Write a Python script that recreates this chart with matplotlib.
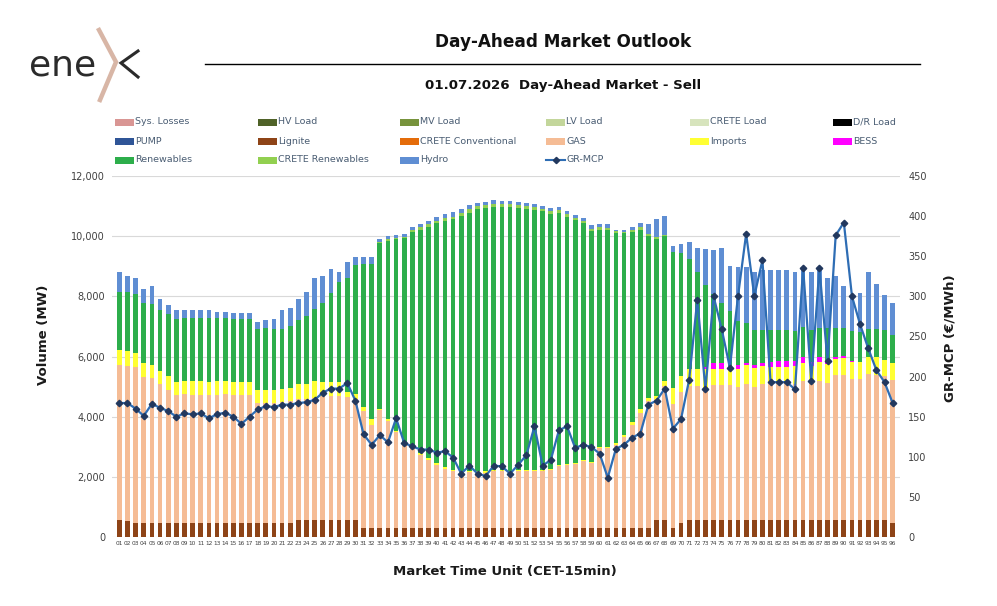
import numpy as np
import matplotlib.pyplot as plt
from matplotlib.patches import Rectangle
from matplotlib.lines import Line2D
from matplotlib.ticker import FuncFormatter

W, H = 997, 606

# market time units 01..96
mtu = [f"{i:02d}" for i in range(1, 97)]

# volumes (MW) per MTU
lignite = [570, 530] + [470] * 20 + [570] * 8 + [300] * 36 + [570, 570, 290, 450] + [570] * 25 + [470]

gas = [5160, 5170, 5170, 4860, 4800, 4600, 4410, 4250, 4270, 4260,
       4260, 4240, 4260, 4270, 4250, 4250, 4250, 3970, 3990, 3990,
       4020, 4040, 4010, 4020, 4040, 4110, 4110, 4110, 4070, 4030,
       3900, 3430, 3920, 3570, 3200, 2840, 2700, 2440, 2270, 2100,
       1960, 1880, 1830, 1870, 1870, 1840, 1880, 1900, 1870, 1880,
       1890, 1900, 1900, 1920, 2060, 2080, 2110, 2230, 2160, 2660,
       2660, 2770, 3030, 3430, 3830, 4220, 4030, 4460, 4130, 4360,
       4460, 4460, 4340, 4490, 4490, 4490, 4430, 4520, 4430, 4510,
       4560, 4560, 4560, 4520, 4610, 4610, 4610, 4550, 4810, 4820,
       4690, 4690, 4850, 4830, 4770, 4760]

imports = [470, 470, 460, 440, 460, 460, 470, 440, 440, 440,
           440, 440, 440, 440, 440, 440, 440, 430, 440, 440,
           420, 430, 490, 490, 560, 480, 460, 460, 170, 160,
           130, 180, 40, 60, 30, 30, 30, 60, 60, 60,
           60, 60, 40, 40, 40, 70, 40, 40, 40, 40,
           40, 40, 40, 40, 40, 40, 40, 40, 40, 40,
           40, 60, 60, 80, 110, 100, 90, 170, 540, 530,
           540, 540, 670, 540, 520, 500, 600, 630, 610, 600,
           530, 530, 530, 580, 620, 520, 630, 630, 540, 560,
           560, 570, 560, 580, 560, 540]

bess = [0] * 72 + [70, 180, 210, 140, 110, 80, 110, 120,
                   170, 180, 180, 180, 190, 110, 170, 90, 60, 60,
                   40, 0, 0, 0, 0, 0]

renewables = [1940, 1960, 1970, 2010, 2010, 2030, 2060, 2070, 2090, 2100,
              2110, 2120, 2100, 2090, 2090, 2080, 2080, 2060, 2060, 2030,
              2010, 2060, 2130, 2270, 2420, 2630, 2960, 3320, 3810, 4280,
              4730, 5170, 5510, 5920, 6360, 6770, 7120, 7400, 7690, 7970,
              8200, 8330, 8510, 8570, 8690, 8730, 8760, 8730, 8770, 8730,
              8670, 8630, 8600, 8490, 8360, 8220, 8080, 7860, 7670, 7220,
              7200, 6990, 6700, 6330, 5980, 5380, 5230, 4810, 4510, 4100,
              3680, 3230, 2740, 2310, 2000, 1800, 1470, 1310, 1170, 1090,
              1060, 1040, 1040, 1010, 980, 1080, 970, 1100, 970, 940,
              980, 970, 940, 940, 970, 940]

crete_renewables = [0] * 32 + [40, 40, 40, 40, 40, 90, 70, 70,
                               70, 80, 90, 110, 100, 100, 100, 100, 100, 90,
                               100, 100, 70, 90, 110, 100, 80, 80, 80, 90,
                               80, 40, 40, 80, 90, 70, 60, 30] + [0] * 28

hydro = [660, 540, 540, 480, 610, 340, 300, 300, 280, 260,
         270, 260, 220, 220, 210, 220, 220, 230, 240, 330,
         610, 600, 720, 790, 1020, 900, 810, 340, 510, 260,
         260, 220, 80, 110, 100, 100, 110, 120, 120, 130,
         140, 140, 130, 130, 110, 110, 110, 110, 100, 100,
         110, 110, 100, 100, 100, 100, 110, 110, 120, 110,
         110, 40, 70, 90, 130, 320, 600, 620, 210, 300,
         540, 810, 1190, 1440, 1810, 1520, 1800, 1870, 1920, 1980,
         1980, 1980, 1980, 1960, 1960, 1910, 1980, 1680, 1740, 1390,
         1170, 1320, 1880, 1500, 1170, 1080]

# GR-MCP price (EUR/MWh)
gr_mcp = [167, 167, 160, 151, 166, 161, 157, 150, 154, 153,
          154, 148, 153, 155, 150, 141, 150, 159, 163, 162,
          165, 165, 167, 168, 171, 180, 185, 185, 192, 170,
          128, 115, 127, 118, 148, 117, 113, 109, 109, 105,
          107, 99, 79, 89, 79, 76, 89, 88, 79, 90,
          102, 138, 89, 96, 133, 138, 111, 115, 112, 104,
          74, 110, 115, 124, 129, 165, 170, 185, 135, 147,
          196, 296, 184, 300, 259, 211, 300, 378, 300, 345,
          193, 193, 193, 184, 335, 195, 335, 219, 376, 392,
          300, 265, 235, 208, 193, 167]

stack = [
    ("Lignite", lignite, "#8E4417"),
    ("GAS", gas, "#F5BC95"),
    ("Imports", imports, "#FFFF33"),
    ("BESS", bess, "#FF00FF"),
    ("Renewables", renewables, "#2DAE4B"),
    ("CRETE Renewables", crete_renewables, "#92D050"),
    ("Hydro", hydro, "#5F8ED3"),
]

legend_rows = [
    [("Sys. Losses", "#D99694"), ("HV Load", "#4F6228"), ("MV Load", "#77933C"),
     ("LV Load", "#C3D69B"), ("CRETE Load", "#D7E4BD"), ("D/R Load", "#000000")],
    [("PUMP", "#2F5597"), ("Lignite", "#8E4417"), ("CRETE Conventional", "#E46C0A"),
     ("GAS", "#F5BC95"), ("Imports", "#FFFF33"), ("BESS", "#FF00FF")],
    [("Renewables", "#2DAE4B"), ("CRETE Renewables", "#92D050"), ("Hydro", "#5F8ED3"),
     ("GR-MCP", None)],
]

fig = plt.figure(figsize=(W / 100, H / 100), dpi=100)


def fx(px):
    return px / W


def fy(py):
    return 1 - py / H


ax = fig.add_axes([fx(112), fy(537), fx(900) - fx(112), fy(176) - fy(537)])
x = np.arange(1, 97)
bottom = np.zeros(96)
for name, vals, col in stack:
    vals = np.array(vals, dtype=float)
    ax.bar(x, vals, width=0.58, bottom=bottom, color=col, linewidth=0, zorder=2)
    bottom += vals

ax.set_xlim(0.1, 96.9)
ax.set_ylim(0, 12000)
ax.set_yticks(range(0, 12001, 2000))
ax.yaxis.set_major_formatter(FuncFormatter(lambda v, p: f"{int(v):,}"))
ax.set_xticks(x)
ax.set_xticklabels(mtu, fontsize=4.2, color="#404040")
ax.tick_params(axis="y", length=0, labelsize=7, labelcolor="#404040", pad=5)
ax.tick_params(axis="x", length=0, pad=3)
ax.yaxis.grid(True, color="#D9D9D9", linewidth=0.8, zorder=0)
ax.set_axisbelow(True)
for s in ax.spines.values():
    s.set_visible(False)

ax2 = ax.twinx()
ax2.plot(x, gr_mcp, color="#2E6DB4", linewidth=1.6, marker="D", markersize=3.3,
         markerfacecolor="#22385E", markeredgecolor="#22385E", zorder=5)
ax2.set_ylim(0, 450)
ax2.set_yticks(range(0, 451, 50))
ax2.tick_params(axis="y", length=0, labelsize=7, labelcolor="#404040", pad=6)
for s in ax2.spines.values():
    s.set_visible(False)

# axis titles
fig.text(fx(43), fy(335), "Volume (MW)", rotation=90, ha="center", va="center",
         fontsize=9.5, fontweight="bold", color="#1a1a1a")
fig.text(fx(950), fy(338), "GR-MCP (€/MWh)", rotation=90, ha="center", va="center",
         fontsize=9.5, fontweight="bold", color="#1a1a1a")
fig.text(fx(505), fy(572), "Market Time Unit (CET-15min)", ha="center", va="center",
         fontsize=9.5, fontweight="bold", color="#1a1a1a")

# headings
fig.text(fx(563), fy(42), "Day-Ahead Market Outlook", ha="center", va="center",
         fontsize=12.2, fontweight="bold", color="#111111")
fig.add_artist(Line2D([fx(205), fx(920)], [fy(64), fy(64)], color="black", linewidth=1.0))
fig.text(fx(563), fy(85), "01.07.2026  Day-Ahead Market - Sell", ha="center", va="center",
         fontsize=9.6, fontweight="bold", color="#111111")

# legend laid out like the source grid
col_x = [115, 258, 400, 546, 690, 833]
row_y = [122, 141, 160]
for r, row in enumerate(row_y):
    for c, (label, col) in enumerate(legend_rows[r]):
        x0 = col_x[c]
        if col is None:
            fig.add_artist(Line2D([fx(x0), fx(x0 + 19)], [fy(row), fy(row)],
                                  color="#2E6DB4", linewidth=1.5))
            fig.add_artist(Line2D([fx(x0 + 9.5)], [fy(row)], marker="D", markersize=3.2,
                                  color="#22385E"))
        else:
            fig.add_artist(Rectangle((fx(x0), fy(row + 3.5)), fx(19), 7 / H,
                                     facecolor=col, edgecolor="none"))
        fig.text(fx(x0 + 20), fy(row), label, ha="left", va="center",
                 fontsize=6.8, color="#4A5D73")

# enex logo
fig.text(fx(29), fy(76), "ene", ha="left", va="baseline", fontsize=26,
         fontweight="normal", color="#2B2B2B")
fig.add_artist(Line2D([fx(99), fx(116), fx(100)], [fy(30), fy(62), fy(100)],
                      color="#D8B6A6", linewidth=3.2, solid_joinstyle="miter"))
fig.add_artist(Line2D([fx(138), fx(121), fx(138)], [fy(51), fy(63), fy(77)],
                      color="#2B2B2B", linewidth=2.2, solid_joinstyle="miter"))

fig.savefig("out.png", dpi=100, facecolor="white")
